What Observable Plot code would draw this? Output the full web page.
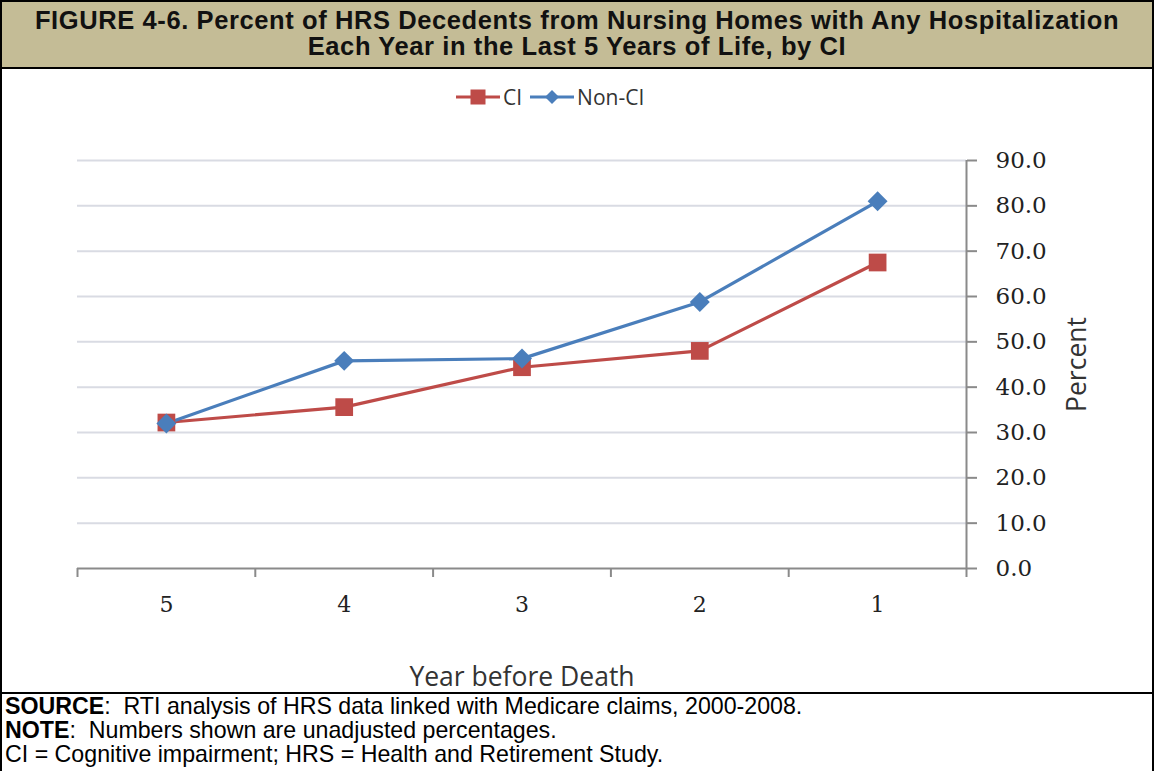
<!DOCTYPE html>
<html>
<head>
<meta charset="utf-8">
<script src="https://cdn.jsdelivr.net/npm/d3@7"></script>
<script src="https://cdn.jsdelivr.net/npm/@observablehq/plot@0.6"></script>
<style>
  html, body { margin: 0; padding: 0; background: #fff; }
  #page { position: relative; width: 1154px; height: 771px; overflow: hidden; background: #fff; }
  #header {
    position: absolute; left: 0; top: 0; width: 1154px; height: 69px; box-sizing: border-box;
    border: 2px solid #000; background: #c4bc96;
    font-family: "Liberation Sans", Arial, sans-serif; font-weight: bold; font-size: 25.5px;
    letter-spacing: 0.6px; line-height: 26px; text-align: center; color: #111; padding-top: 5px; white-space: nowrap;
  }
  #chartbox {
    position: absolute; left: 0; top: 67px; width: 1154px; height: 627px; box-sizing: border-box;
    border-left: 2px solid #000; border-right: 2px solid #000; border-bottom: 2px solid #000;
  }
  #footer {
    position: absolute; left: 0; top: 694px; width: 1154px; height: 80px; box-sizing: border-box;
    border-left: 2px solid #000; border-right: 2px solid #000;
    font-family: "Liberation Sans", Arial, sans-serif; font-size: 23.2px; line-height: 24px;
    color: #000; padding-left: 3px; white-space: nowrap;
  }
  #legend {
    position: absolute; left: 456px; top: 84px; height: 26px; display: flex; align-items: center;
    font-family: "Open Sans", sans-serif; font-size: 21px; color: #333;
  }
  #legend .item { display: flex; align-items: center; margin-right: 8px; }
  #legend svg { display: block; margin-right: 3px; }
  #chart { position: absolute; left: 0; top: 125px; }
</style>
</head>
<body>
<div id="page">
  <div id="header"><div>FIGURE 4-6. Percent of HRS Decedents from Nursing Homes with Any Hospitalization</div><div>Each Year in the Last 5 Years of Life, by CI</div></div>
  <div id="chartbox"></div>
  <div id="legend"></div>
  <div id="chart"></div>
  <div id="footer">
    <div><b>SOURCE</b>:&nbsp; RTI analysis of HRS data linked with Medicare claims, 2000-2008.</div>
    <div><b>NOTE</b>:&nbsp; Numbers shown are unadjusted percentages.</div>
    <div>CI = Cognitive impairment; HRS = Health and Retirement Study.</div>
  </div>
</div>
<script>
// ---- Data ----
const years = [5, 4, 3, 2, 1];
const ciValues = [32.2, 35.6, 44.4, 48.0, 67.5];
const nonCiValues = [32.0, 45.8, 46.3, 58.8, 81.0];
const seriesNames = ["CI", "Non-CI"];
const seriesColors = ["#be4b48", "#4a7ebb"];
const seriesSymbols = ["square", "diamond2"];
const yTicks = [0, 10, 20, 30, 40, 50, 60, 70, 80, 90];
const xLabel = "Year before Death";
const yLabel = "Percent";

// ---- Build table ----
const rows = [];
years.forEach((yr, i) => rows.push({year: yr, value: ciValues[i], series: seriesNames[0]}));
years.forEach((yr, i) => rows.push({year: yr, value: nonCiValues[i], series: seriesNames[1]}));

// band boundaries (for the category tick marks)
const bounds = [years[0] + 0.5, ...years.map(y => y - 0.5)];

const gridColor = "#d9dbe3";
const axisColor = "#8a8a8a";
const numFont = "DejaVu Serif";
const txtFont = "Open Sans";

const chart = Plot.plot({
  width: 1154,
  height: 567,
  marginTop: 35,
  marginBottom: 124,
  marginLeft: 77,
  marginRight: 188,
  style: {background: "transparent", fontFamily: numFont, fontSize: "22px", color: "#222"},
  x: {type: "linear", domain: [bounds[0], bounds[bounds.length - 1]]},
  y: {type: "linear", domain: [0, 90]},
  color: {domain: seriesNames, range: seriesColors},
  symbol: {domain: seriesNames, range: seriesSymbols},
  marks: [
    Plot.gridY(yTicks.filter(t => t > 0), {stroke: gridColor, strokeOpacity: 1, strokeWidth: 2}),
    // x axis line and right y axis line
    Plot.ruleY([0], {stroke: axisColor, strokeWidth: 2}),
    Plot.ruleX([bounds[bounds.length - 1]], {y1: 0, y2: 90, stroke: axisColor, strokeWidth: 2}),
    // category boundary ticks
    Plot.axisX({ticks: bounds, tickSize: 9, tickFormat: () => "", stroke: axisColor, strokeWidth: 2, label: null}),
    // category labels
    Plot.axisX({ticks: years, tickSize: 0, tickPadding: 28, tickFormat: d => String(d),
      fill: "#222", fontFamily: numFont, fontSize: 22, label: null}),
    // x axis title
    Plot.axisX({ticks: [], tickSize: 0, label: xLabel, labelAnchor: "center", labelArrow: false,
      labelOffset: 117, fill: "#333", fontFamily: txtFont, fontSize: 26.5}),
    // right y axis
    Plot.axisY({anchor: "right", ticks: yTicks, tickSize: 10, tickPadding: 19,
      tickFormat: d => d.toFixed(1), stroke: axisColor, strokeWidth: 2, fill: "#222",
      fontFamily: numFont, fontSize: 23, label: null}),
    // y axis title
    Plot.text([yLabel], {frameAnchor: "right", rotate: -90, dx: 111, dy: 0, text: d => d,
      textAnchor: "middle", lineAnchor: "middle",
      fill: "#333", fontFamily: txtFont, fontSize: 26.5}),
    // series
    Plot.line(rows, {x: "year", y: "value", z: "series", stroke: "series", strokeWidth: 3.2}),
    Plot.dot(rows.filter(d => d.series === seriesNames[0]), {x: "year", y: "value", symbol: "series", fill: "series", r: 10, stroke: null}),
    Plot.dot(rows.filter(d => d.series === seriesNames[1]), {x: "year", y: "value", symbol: "series", fill: "series", r: 9, stroke: null})
  ]
});
document.getElementById("chart").appendChild(chart);

// ---- HTML legend ----
const legend = document.getElementById("legend");
seriesNames.forEach((name, i) => {
  const item = document.createElement("div");
  item.className = "item";
  const w = 44, h = 26, c = h / 2;
  const marker = seriesSymbols[i] === "square"
    ? `<rect x="${w/2 - 7.5}" y="${c - 7.5}" width="15" height="15" fill="${seriesColors[i]}"/>`
    : `<path d="M${w/2},${c - 7} L${w/2 + 7},${c} L${w/2},${c + 7} L${w/2 - 7},${c} Z" fill="${seriesColors[i]}"/>`;
  item.innerHTML = `<svg width="${w}" height="${h}"><line x1="0" x2="${w}" y1="${c}" y2="${c}" stroke="${seriesColors[i]}" stroke-width="3"/>${marker}</svg><span>${name}</span>`;
  legend.appendChild(item);
});
</script>
</body>
</html>
